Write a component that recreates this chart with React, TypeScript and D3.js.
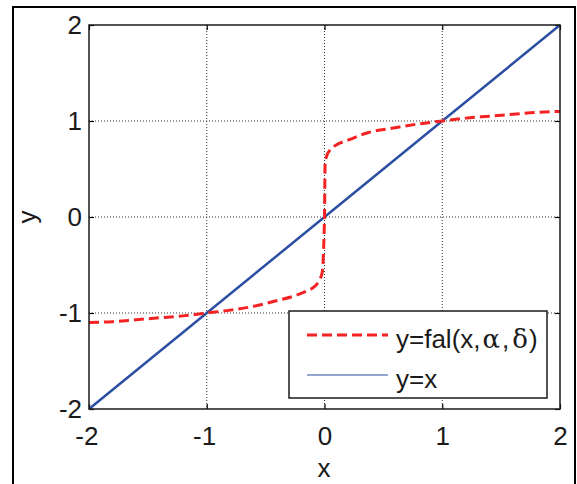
import React, { useEffect, useRef } from 'react';
import * as d3 from 'd3';

// sampled points of the two curves
const falX = [-2, -1.8, -1.6, -1.4, -1.2, -1, -0.8, -0.6, -0.4, -0.25, -0.15, -0.08, -0.04, -0.02, 0, 0.005, 0.02, 0.05, 0.1, 0.2, 0.36, 0.6, 0.8, 1, 1.2, 1.4, 1.6, 1.8, 2];
const falY = [-1.1, -1.09, -1.07, -1.05, -1.03, -1.0, -0.97, -0.93, -0.87, -0.82, -0.77, -0.72, -0.65, -0.58, 0, 0.56, 0.64, 0.7, 0.75, 0.8, 0.875, 0.93, 0.97, 1.0, 1.03, 1.05, 1.07, 1.09, 1.1];
const lineX = [-2, -1, 0, 1, 2];
const lineY = [-2, -1, 0, 1, 2];
const xTicks = [-2, -1, 0, 1, 2];
const yTicks = [-2, -1, 0, 1, 2];

const FONT = '"Liberation Sans", Arial, sans-serif';
const SYM = '"DejaVu Serif", "Liberation Serif", serif';

const App = () => {
  const ref = useRef<SVGSVGElement>(null);

  useEffect(() => {
    const svg = d3.select(ref.current);
    svg.selectAll('*').remove();

    const left = 89, right = 560, top = 25, bottom = 409;
    const x = d3.scaleLinear().domain([-2, 2]).range([left, right]);
    const y = d3.scaleLinear().domain([-2, 2]).range([bottom, top]);
    const fmt = (d: any) => String(d);

    // outer figure frame
    svg.append('rect')
      .attr('x', 13).attr('y', 7).attr('width', 562).attr('height', 500)
      .attr('fill', 'white').attr('stroke', '#000').attr('stroke-width', 2);

    const g = svg.append('g');

    // grid
    g.selectAll('.vgrid').data(xTicks.slice(1, -1)).enter().append('line')
      .attr('x1', d => x(d)).attr('x2', d => x(d))
      .attr('y1', top).attr('y2', bottom)
      .attr('stroke', '#333').attr('stroke-width', 1).attr('stroke-dasharray', '1,2');
    g.selectAll('.hgrid').data(yTicks.slice(1, -1)).enter().append('line')
      .attr('x1', left).attr('x2', right)
      .attr('y1', d => y(d)).attr('y2', d => y(d))
      .attr('stroke', '#333').attr('stroke-width', 1).attr('stroke-dasharray', '1,2');

    // axes (ticks inside, mirrored on top/right)
    const axB = d3.axisBottom(x).tickValues(xTicks).tickSizeInner(-5).tickSizeOuter(0).tickFormat(fmt);
    const axL = d3.axisLeft(y).tickValues(yTicks).tickSizeInner(-5).tickSizeOuter(0).tickPadding(7).tickFormat(fmt);
    const axT = d3.axisTop(x).tickValues(xTicks).tickSizeInner(-5).tickSizeOuter(0).tickFormat(() => '');
    const axR = d3.axisRight(y).tickValues(yTicks).tickSizeInner(-5).tickSizeOuter(0).tickFormat(() => '');

    const styleAxis = (sel: any) => {
      sel.select('.domain').remove();
      sel.selectAll('line').attr('stroke', '#000').attr('stroke-width', 1.2);
      sel.selectAll('text').attr('font-family', FONT).attr('font-size', 26).attr('fill', '#1a1a1a');
    };
    g.append('g').attr('transform', `translate(0,${bottom})`).call(axB).call(styleAxis)
      .selectAll('text').attr('y', 36).attr('dy', 0).attr('dx', (d: any) => (d < 0 ? '-0.1em' : '0'));
    g.append('g').attr('transform', `translate(${left},0)`).call(axL).call(styleAxis);
    g.append('g').attr('transform', `translate(0,${top})`).call(axT).call(styleAxis);
    g.append('g').attr('transform', `translate(${right},0)`).call(axR).call(styleAxis);

    // data lines
    const fal = falX.map((v, i) => [v, falY[i]] as [number, number]);
    const ident = lineX.map((v, i) => [v, lineY[i]] as [number, number]);
    const line = d3.line<[number, number]>().x(d => x(d[0])).y(d => y(d[1])).curve(d3.curveMonotoneX);

    g.append('path').datum(ident).attr('d', d3.line<[number, number]>().x(d => x(d[0])).y(d => y(d[1])))
      .attr('fill', 'none').attr('stroke', '#2c4fa3').attr('stroke-width', 2.5);
    g.append('path').datum(fal).attr('d', line)
      .attr('fill', 'none').attr('stroke', '#f42222').attr('stroke-width', 3)
      .attr('stroke-dasharray', '10,5');

    // box
    g.append('rect')
      .attr('x', left).attr('y', top).attr('width', right - left).attr('height', bottom - top)
      .attr('fill', 'none').attr('stroke', '#1a1a1a').attr('stroke-width', 1.5);

    // axis labels
    svg.append('text').attr('x', 324).attr('y', 477)
      .attr('text-anchor', 'middle').attr('font-family', FONT).attr('font-size', 26).attr('fill', '#1a1a1a').text('x');
    svg.append('text').attr('transform', `translate(36,${(top + bottom) / 2}) rotate(-90)`)
      .attr('text-anchor', 'middle').attr('font-family', FONT).attr('font-size', 26).attr('fill', '#1a1a1a').text('y');

    // legend
    const lg = svg.append('g');
    lg.append('rect').attr('x', 289).attr('y', 311).attr('width', 258).attr('height', 87)
      .attr('fill', 'white').attr('stroke', '#1a1a1a').attr('stroke-width', 1.5);
    lg.append('line').attr('x1', 307).attr('x2', 388).attr('y1', 335).attr('y2', 335)
      .attr('stroke', '#f42222').attr('stroke-width', 3).attr('stroke-dasharray', '10,5');
    lg.append('line').attr('x1', 307).attr('x2', 388).attr('y1', 375).attr('y2', 375)
      .attr('stroke', '#2c4fa3').attr('stroke-width', 1.2);
    const t1 = lg.append('text').attr('x', 396).attr('y', 348)
      .attr('font-family', FONT).attr('font-size', 26).attr('fill', '#1a1a1a');
    t1.append('tspan').text('y=fal(x,');
    t1.append('tspan').attr('font-family', SYM).attr('font-size', 26).attr('dx', 2).text('α');
    t1.append('tspan').attr('dx', 2).text(',');
    t1.append('tspan').attr('font-family', SYM).attr('font-size', 26).attr('dx', 3).text('δ');
    t1.append('tspan').attr('dx', 1).text(')');
    lg.append('text').attr('x', 396).attr('y', 388)
      .attr('font-family', FONT).attr('font-size', 26).attr('fill', '#1a1a1a').text('y=x');
  }, []);

  return (
    <svg ref={ref} width={577} height={484}
      style={{ position: 'absolute', left: 0, top: 0, background: 'white' }} />
  );
};

export default App;
